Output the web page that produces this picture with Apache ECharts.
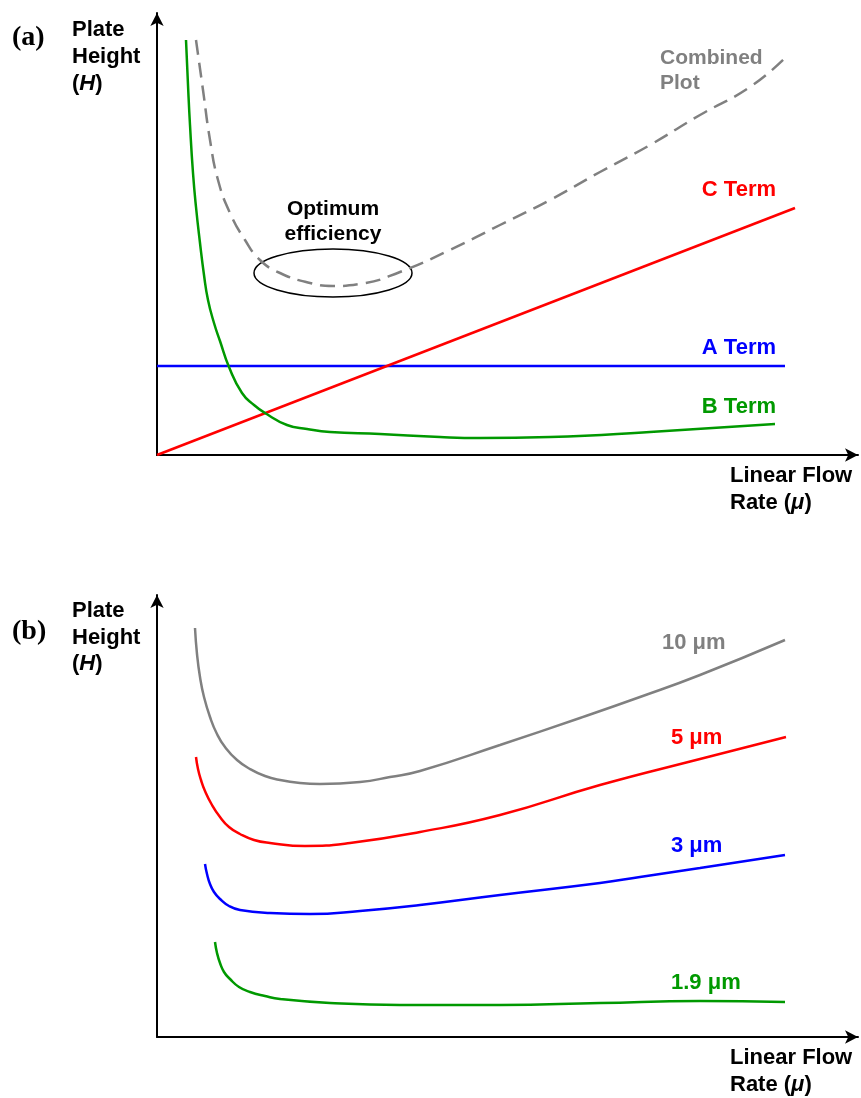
<!DOCTYPE html>
<html>
<head>
<meta charset="utf-8">
<script src="https://cdn.jsdelivr.net/npm/echarts@6/dist/echarts.min.js"></script>
<style>html,body{margin:0;padding:0;background:#fff}#c{width:861px;height:1098px}</style>
</head>
<body>
<div id="c"></div>
<script>
// Panel (a) values: [flow rate, plate height] in chart units
const aTerm = [[0, 89], [628, 89]];
const cTerm = [[0, 0], [638, 247]];
const bTerm = [[29,415],[31,370],[33,330],[36,282],[39,248],[43,212],[47,180],[51,155],[57,132],[63,114],[72,88],[85,62],[97,50],[108,42],[130,30],[150,26],[173,23],[223,21],[283,18],[323,17],[393,18],[493,23],[618,31]];
const combined = [[39,415],[46,365],[53,315],[61,275],[73,242],[88,215],[103,195],[123,182],[153,172],[176,169],[203,171],[243,183],[293,205],[343,230],[393,255],[443,283],[493,310],[543,340],[593,368],[628,397]];
const optimum = { center: [176, 182], rx: 79, ry: 24 };
// Panel (b) values
const p10 = [[38,409],[40,383],[43,360],[47,340],[53,320],[60,303],[68,290],[80,277],[93,268],[108,261],[123,257],[143,254],[163,253],[203,255],[233,260],[263,266],[343,292],[423,319],[483,340],[543,362],[628,397]];
const p5 = [[39,280],[41,268],[44,257],[48,246],[55,232],[63,220],[72,210],[83,203],[97,197],[113,194],[148,191],[193,194],[263,205],[343,222],[443,252],[543,278],[629,300]];
const p3 = [[48,173],[50,163],[53,153],[57,145],[63,138],[72,131],[83,127],[113,124],[153,123],[203,126],[263,132],[343,142],[443,154],[483,160],[543,169],[628,182]];
const p19 = [[58,95],[60,84],[63,74],[67,65],[73,58],[82,50],[93,45],[108,41],[123,38],[173,34],[243,32],[343,32],[443,34],[543,36],[628,35]];

const FONT = '"Liberation Sans", Arial, sans-serif';
const FS = 22;
const chart = echarts.init(document.getElementById('c'), null, {renderer: 'canvas'});

function axis(gi, max) {
  return {
    type: 'value', gridIndex: gi, min: 0, max: max,
    axisLine: {show: true, onZero: false, symbol: ['none', 'arrow'], symbolSize: [10, 13], symbolOffset: [0, 0],
      lineStyle: {color: '#000', width: 2}},
    axisTick: {show: false}, axisLabel: {show: false}, splitLine: {show: false}
  };
}
function line(data, color, gi, extra) {
  return Object.assign({
    type: 'line', xAxisIndex: gi, yAxisIndex: gi, data: data, smooth: 0.5,
    showSymbol: false, symbol: 'none', silent: true, animation: false,
    lineStyle: {color: color, width: 2.5}
  }, extra || {});
}
function txt(text, x, y, color, align, extra) {
  return {type: 'text', x: x, y: y, silent: true, style: Object.assign({
    text: text, fill: color, font: 'bold ' + FS + 'px ' + FONT, align: align || 'left', verticalAlign: 'middle', lineHeight: 27
  }, extra || {})};
}
function rich(parts, x, y) {
  return {type: 'text', x: x, y: y, silent: true, style: {text: parts, verticalAlign: 'middle',
    rich: {n: {font: 'bold ' + FS + 'px ' + FONT, fill: '#000'}, i: {font: 'italic bold ' + FS + 'px ' + FONT, fill: '#000'}}}};
}

chart.setOption({
  animation: false,
  grid: [
    {left: 157, top: 13, width: 701, height: 442},
    {left: 157, top: 595, width: 701, height: 442}
  ],
  xAxis: [axis(0, 701), axis(1, 701)],
  yAxis: [axis(0, 442), axis(1, 442)],
  series: [
    line(aTerm, '#0000ff', 0, {smooth: false}),
    line(cTerm, '#ff0000', 0, {smooth: false}),
    line(bTerm, '#009900', 0),
    line(combined, '#808080', 0, {lineStyle: {color: '#808080', width: 2.5, type: [15, 8]}}),
    line(p10, '#808080', 1),
    line(p5, '#ff0000', 1),
    line(p3, '#0000ff', 1),
    line(p19, '#009900', 1)
  ]
});

const c = chart.convertToPixel({gridIndex: 0}, optimum.center);
const e = chart.convertToPixel({gridIndex: 0}, [optimum.center[0] + optimum.rx, optimum.center[1] + optimum.ry]);

chart.setOption({
  graphic: [
    {type: 'ellipse', silent: true, shape: {cx: c[0], cy: c[1], rx: e[0] - c[0], ry: c[1] - e[1]},
      style: {fill: 'none', stroke: '#000', lineWidth: 1.5}},
    txt('(a)', 12, 38, '#000', 'left', {font: 'bold 28px "Liberation Serif", "Times New Roman", serif'}),
    txt('(b)', 12, 632, '#000', 'left', {font: 'bold 28px "Liberation Serif", "Times New Roman", serif'}),
    txt('Plate\nHeight', 72, 43, '#000'),
    rich('{n|(}{i|H}{n|)}', 72, 84),
    txt('Plate\nHeight', 72, 624, '#000'),
    rich('{n|(}{i|H}{n|)}', 72, 664),
    txt('Linear Flow', 730, 476, '#000'),
    rich('{n|Rate (}{i|μ}{n|)}', 730, 503),
    txt('Linear Flow', 730, 1058, '#000'),
    rich('{n|Rate (}{i|μ}{n|)}', 730, 1085),
    txt('Optimum\nefficiency', 333, 222, '#000', 'center', {font: 'bold 21px ' + FONT, lineHeight: 25}),
    txt('Combined\nPlot', 660, 71, '#808080', 'left', {font: 'bold 21px ' + FONT, lineHeight: 25}),
    txt('C Term', 776, 190, '#ff0000', 'right'),
    txt('A Term', 776, 348, '#0000ff', 'right'),
    txt('B Term', 776, 407, '#009900', 'right'),
    txt('10 μm', 662, 643, '#808080', 'left'),
    txt('5 μm', 671, 738, '#ff0000', 'left'),
    txt('3 μm', 671, 846, '#0000ff', 'left'),
    txt('1.9 μm', 671, 983, '#009900', 'left')
  ]
});
</script>
</body>
</html>
